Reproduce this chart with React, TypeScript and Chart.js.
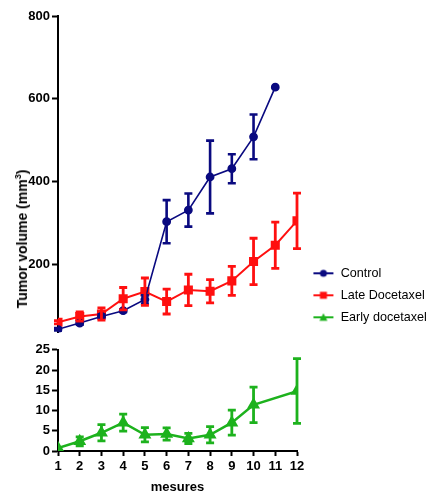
import React, { useEffect, useRef } from 'react';
import { Chart, registerables } from 'chart.js';

Chart.register(...registerables);

const mesures = [1, 2, 3, 4, 5, 6, 7, 8, 9, 10, 11, 12];
const controlMean = [43, 58, 74, 88, 115, 303, 331, 411, 431, 508, 628, null];
const controlSem = [3, 4, 5, 3, 10, 52, 40, 88, 35, 54, 0, null];
const lateMean = [60, 74, 80, 117, 134, 110, 138, 135, 160, 207, 246, 305];
const lateSem = [4, 11, 15, 27, 33, 30, 38, 28, 35, 56, 56, 67];
const earlyMean = [0.7, 2.4, 4.5, 7.0, 4.0, 4.2, 3.1, 4.0, 7.0, 11.4, null, 14.8];
const earlySem = [0, 1.1, 2.0, 2.1, 1.75, 1.5, 1.25, 2.0, 3.1, 4.4, null, 8.0];
const topTicks = [200, 400, 600, 800];
const bottomTicks = [0, 5, 10, 15, 20, 25];
const seriesNames = ['Control', 'Late Docetaxel', 'Early docetaxel'];
const xTitle = 'mesures';

const NAVY = '#0a0a80';
const RED = '#ff1010';
const GREEN = '#1db21d';

const TICK_FONT = { family: "'Liberation Sans Narrow', 'Liberation Sans', Arial, sans-serif", size: 13, weight: 'bold' as const };
const LEGEND_FONT = { family: "'Liberation Sans', Arial, sans-serif", size: 12.6 };

const toPoints = (ys: (number | null)[]) => mesures.map((x, i) => ({ x, y: ys[i] }));

const errorBarPlugin = {
  id: 'errorBars',
  afterDatasetsDraw(chart: any) {
    const ctx = chart.ctx;
    chart.data.datasets.forEach((ds: any, i: number) => {
      const meta = chart.getDatasetMeta(i);
      if (meta.hidden || !ds.errors) return;
      const xs = chart.scales[meta.xAxisID];
      const ys = chart.scales[meta.yAxisID];
      ctx.save();
      ctx.strokeStyle = ds.borderColor;
      ctx.lineWidth = ds.errWidth || 2.5;
      ctx.lineCap = 'butt';
      const cap = 4;
      ds.data.forEach((p: any, j: number) => {
        const e = ds.errors[j];
        if (p == null || p.y == null || !e) return;
        const x = xs.getPixelForValue(p.x);
        const y1 = ys.getPixelForValue(p.y + e);
        const y2 = ys.getPixelForValue(p.y - e);
        ctx.beginPath();
        ctx.moveTo(x, y1);
        ctx.lineTo(x, y2);
        ctx.moveTo(x - cap, y1);
        ctx.lineTo(x + cap, y1);
        ctx.moveTo(x - cap, y2);
        ctx.lineTo(x + cap, y2);
        ctx.stroke();
      });
      ctx.restore();
    });
  },
};

const LEGEND_WIDTH = 132;
const LEGEND_LIFT = 3;

const legendFixPlugin = {
  id: 'legendFix',
  beforeLayout(chart: any) {
    const lg = chart.legend;
    if (lg && !lg.__patched) {
      const orig = lg.fit.bind(lg);
      lg.fit = function () {
        orig();
        this.width = LEGEND_WIDTH;
      };
      lg.__patched = true;
    }
  },
  afterLayout(chart: any) {
    const lg = chart.legend;
    if (lg) {
      lg.top -= LEGEND_LIFT;
      lg.bottom -= LEGEND_LIFT;
    }
  },
};

function legendIcon(color: string, style: string) {
  const c = document.createElement('canvas');
  c.width = 28;
  c.height = 12;
  const g = c.getContext('2d')!;
  g.strokeStyle = color;
  g.fillStyle = color;
  g.lineWidth = 2;
  g.beginPath();
  g.moveTo(7, 6);
  g.lineTo(27, 6);
  g.stroke();
  g.beginPath();
  if (style === 'circle') {
    g.arc(17, 6, 3.5, 0, Math.PI * 2);
  } else if (style === 'rect') {
    g.rect(13.5, 2.5, 7, 7);
  } else {
    g.moveTo(17, 2);
    g.lineTo(21, 9.5);
    g.lineTo(13, 9.5);
    g.closePath();
  }
  g.fill();
  return c;
}

const axisCommon = {
  grid: { drawOnChartArea: false, drawTicks: true, tickLength: 6, tickWidth: 2, color: '#000' },
  border: { color: '#000', width: 2 },
  ticks: { color: '#000', font: TICK_FONT, padding: 2 },
};

export default function App() {
  const topRef = useRef<HTMLCanvasElement>(null);
  const botRef = useRef<HTMLCanvasElement>(null);

  useEffect(() => {
    const icons = [legendIcon(NAVY, 'circle'), legendIcon(RED, 'rect'), legendIcon(GREEN, 'triangle')];

    const top = new Chart(topRef.current!, {
      type: 'line',
      data: {
        datasets: [
          {
            label: seriesNames[0],
            data: toPoints(controlMean),
            borderColor: NAVY,
            backgroundColor: NAVY,
            borderWidth: 1.6,
            pointStyle: 'circle',
            pointRadius: 3.6,
            errors: controlSem,
            errWidth: 2.6,
          } as any,
          {
            label: seriesNames[1],
            data: toPoints(lateMean),
            borderColor: RED,
            backgroundColor: RED,
            borderWidth: 2,
            pointStyle: 'rect',
            pointRadius: 5,
            errors: lateSem,
            errWidth: 2.8,
          } as any,
          {
            label: seriesNames[2],
            data: [],
            borderColor: GREEN,
            backgroundColor: GREEN,
            borderWidth: 2.5,
            pointStyle: 'triangle',
            pointRadius: 5,
          } as any,
        ],
      },
      options: {
        animation: false,
        responsive: false,
        maintainAspectRatio: false,
        layout: { padding: { top: 16, bottom: 6, left: 0, right: 0 } },
        plugins: {
          legend: {
            position: 'right',
            align: 'end',
            labels: {
              usePointStyle: true,
              pointStyleWidth: 28,
              padding: 9.4,
              color: '#000',
              font: LEGEND_FONT,
              generateLabels: (chart: any) =>
                (Chart.defaults.plugins.legend.labels as any)
                  .generateLabels(chart)
                  .map((l: any, i: number) => ({ ...l, pointStyle: icons[i] })),
            },
          },
          tooltip: { enabled: false },
        },
        scales: {
          x: { type: 'linear', min: 1, max: 12, display: false },
          y: {
            ...axisCommon,
            min: 36,
            max: 800,
            afterBuildTicks: (s: any) => {
              s.ticks = topTicks.map((v) => ({ value: v }));
            },
            afterFit: (s: any) => {
              s.width = 58;
            },
          } as any,
        },
      },
      plugins: [errorBarPlugin, legendFixPlugin],
    });

    const bot = new Chart(botRef.current!, {
      type: 'line',
      data: {
        datasets: [
          {
            label: seriesNames[2],
            data: toPoints(earlyMean),
            borderColor: GREEN,
            backgroundColor: GREEN,
            borderWidth: 2.5,
            pointStyle: 'triangle',
            pointRadius: 5,
            spanGaps: true,
            errors: earlySem,
            errWidth: 2.8,
          } as any,
        ],
      },
      options: {
        animation: false,
        responsive: false,
        maintainAspectRatio: false,
        layout: { padding: { top: 8, bottom: 0, left: 0, right: 132 } },
        plugins: { legend: { display: false }, tooltip: { enabled: false } },
        scales: {
          x: {
            type: 'linear',
            min: 1,
            max: 12,
            grid: { drawOnChartArea: false, drawTicks: true, tickLength: 5, tickWidth: 2, color: '#000' },
            border: { color: '#000', width: 2 },
            ticks: { color: '#000', font: TICK_FONT, padding: 3, stepSize: 1, autoSkip: false, maxRotation: 0 },
            afterBuildTicks: (s: any) => {
              s.ticks = mesures.map((v) => ({ value: v }));
            },
            title: {
              display: true,
              text: xTitle,
              color: '#000',
              font: { family: "'Liberation Sans', Arial, sans-serif", size: 13, weight: 'bold' },
              padding: { top: 0, bottom: 0 },
            },
            afterFit: (s: any) => {
              s.height = 44;
            },
          } as any,
          y: {
            ...axisCommon,
            min: 0,
            max: 25,
            afterBuildTicks: (s: any) => {
              s.ticks = bottomTicks.map((v) => ({ value: v }));
            },
            afterFit: (s: any) => {
              s.width = 58;
            },
          } as any,
        },
      },
      plugins: [errorBarPlugin],
    });

    return () => {
      top.destroy();
      bot.destroy();
    };
  }, []);

  return (
    <div style={{ position: 'absolute', left: 0, top: 0, width: 429, height: 495, background: '#fff' }}>
      <canvas ref={topRef} width={429} height={342} style={{ position: 'absolute', left: 0, top: 0, display: 'block' }} />
      <canvas ref={botRef} width={429} height={155} style={{ position: 'absolute', left: 0, top: 340, display: 'block' }} />
      <div
        style={{
          position: 'absolute',
          left: 22,
          top: 239,
          transform: 'translate(-50%, -50%) rotate(-90deg)',
          whiteSpace: 'nowrap',
          fontFamily: "'Liberation Sans', Arial, sans-serif",
          fontWeight: 'bold',
          fontSize: 14,
          color: '#000',
          lineHeight: '16px',
        }}
      >
        Tumor volume (mm<sup style={{ fontSize: 9, lineHeight: 0 }}>3</sup>)
      </div>
    </div>
  );
}
